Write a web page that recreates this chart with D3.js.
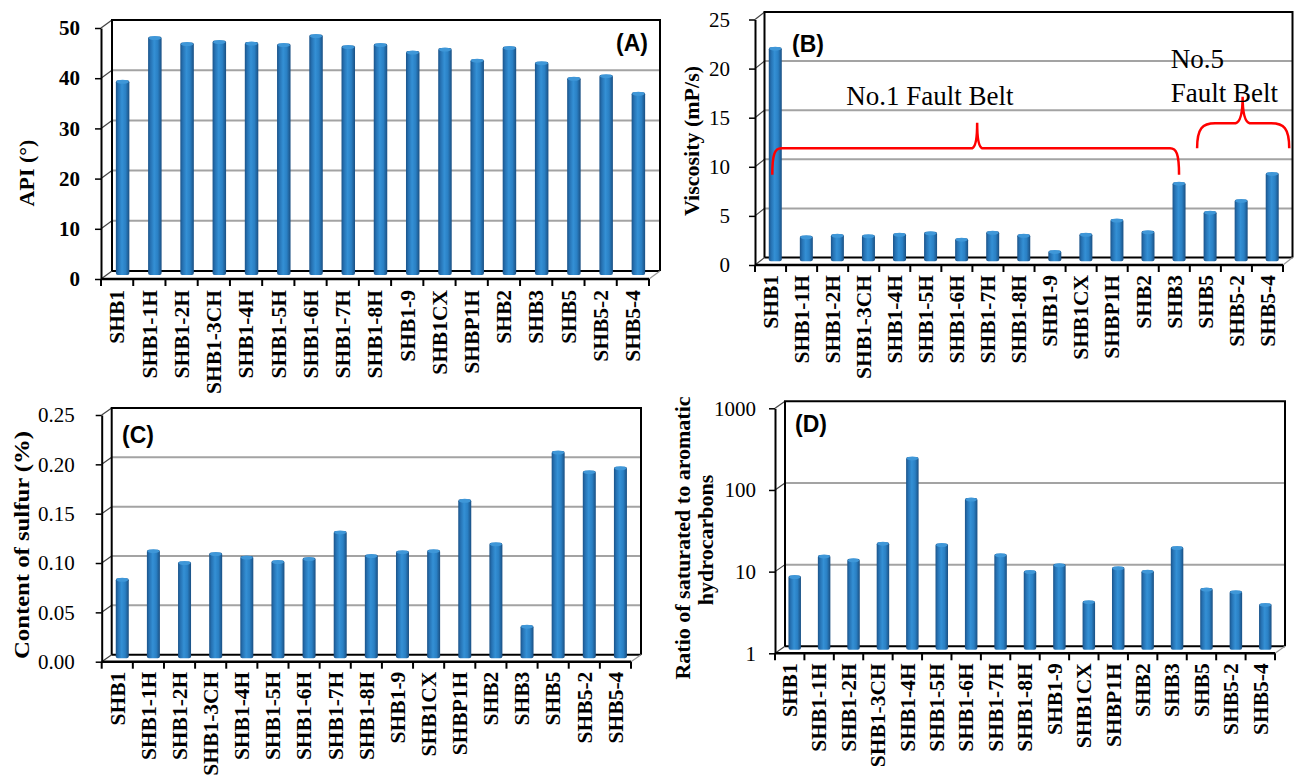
<!DOCTYPE html>
<html>
<head>
<meta charset="utf-8">
<script src="https://cdn.jsdelivr.net/npm/d3@7"></script>
<style>
  body { margin: 0; background: #fff; }
  svg { display: block; }
</style>
</head>
<body>
<svg id="chart" width="1294" height="776"></svg>
<script>
// wells shared by all four panels
var wells = ["SHB1", "SHB1-1H", "SHB1-2H", "SHB1-3CH", "SHB1-4H", "SHB1-5H", "SHB1-6H",
    "SHB1-7H", "SHB1-8H", "SHB1-9", "SHB1CX", "SHBP1H", "SHB2", "SHB3", "SHB5", "SHB5-2", "SHB5-4"];

var apiValues = [38.8, 47.5, 46.3, 46.7, 46.4, 46.1, 47.9, 45.7, 46.1, 44.6, 45.2, 43.0, 45.5, 42.5, 39.4, 39.9, 36.4];
var viscosityValues = [21.8, 2.6, 2.75, 2.7, 2.85, 3.0, 2.35, 3.05, 2.75, 1.1, 2.85, 4.3, 3.1, 8.05, 5.1, 6.3, 9.05];
var sulfurValues = [0.081, 0.110, 0.098, 0.107, 0.1035, 0.099, 0.102, 0.129, 0.105, 0.109, 0.110, 0.161, 0.117, 0.0335, 0.210, 0.190, 0.194];
var ratioValues = [8.1, 14.5, 13.0, 20.8, 230, 20, 72, 15, 9.35, 11.3, 4.0, 10.4, 9.45, 18.4, 5.7, 5.3, 3.7];

var apiTicks = [0, 10, 20, 30, 40, 50];
var viscosityTicks = [0, 5, 10, 15, 20, 25];
var sulfurTicks = [0, 0.05, 0.10, 0.15, 0.20, 0.25];
var ratioTicks = [1, 10, 100, 1000];

var serif = "'Liberation Serif', 'Times New Roman', serif",
    sans = "'Liberation Sans', Arial, sans-serif";

var svg = d3.select("#chart");

var defs = svg.append("defs");
var grad = defs.append("linearGradient")
    .attr("id", "barGrad")
    .attr("x1", 0).attr("x2", 1).attr("y1", 0).attr("y2", 0);
[[0, "#1b5389"], [0.18, "#2672b3"], [0.45, "#3490d5"], [0.72, "#2a80c4"], [1, "#1a4f82"]]
    .forEach(function(s) {
        grad.append("stop").attr("offset", s[0]).attr("stop-color", s[1]);
    });

// one pseudo-3D column panel
function drawPanel(p) {
    var g = svg.append("g");
    var dx = p.dx, dy = p.dy;

    var x = d3.scaleBand()
        .domain(wells)
        .range([p.x0, p.x1]);

    var y = (p.log ? d3.scaleLog() : d3.scaleLinear())
        .domain(p.domain)
        .range([p.yBot, p.yTop]);

    // back wall gridlines
    g.selectAll(".grid")
        .data(p.ticks.slice(1, -1))
        .join("line")
        .attr("x1", p.x0 + dx).attr("x2", p.x1 + dx)
        .attr("y1", function(d) { return y(d) + dy; })
        .attr("y2", function(d) { return y(d) + dy; })
        .attr("stroke", "#a3a3a3")
        .attr("stroke-width", 2);

    // side wall diagonals
    g.selectAll(".side")
        .data(p.ticks)
        .join("line")
        .attr("x1", p.x0).attr("x2", p.x0 + dx)
        .attr("y1", function(d) { return y(d); })
        .attr("y2", function(d) { return y(d) + dy; })
        .attr("stroke", "#444")
        .attr("stroke-width", 1.2);

    // back wall frame
    g.append("path")
        .attr("d", "M" + (p.x0 + dx) + "," + (p.yBot + dy) + "V" + (p.yTop + dy) +
            "H" + (p.x1 + dx) + "V" + (p.yBot + dy))
        .attr("fill", "none")
        .attr("stroke", "#000")
        .attr("stroke-width", 2);

    // floor
    g.append("line")
        .attr("x1", p.x0 + dx).attr("x2", p.x1 + dx)
        .attr("y1", p.yBot + dy).attr("y2", p.yBot + dy)
        .attr("stroke", "#000").attr("stroke-width", 2);
    g.append("line")
        .attr("x1", p.x1).attr("x2", p.x1 + dx)
        .attr("y1", p.yBot).attr("y2", p.yBot + dy)
        .attr("stroke", "#999").attr("stroke-width", 1.2);

    // bars, standing half way into the depth
    var bw = p.barWidth;
    var bars = g.append("g");
    bars.selectAll("rect")
        .data(p.values)
        .join("rect")
        .attr("x", function(d, i) { return x(wells[i]) + x.bandwidth() / 2 + dx / 2 - bw / 2; })
        .attr("y", function(d) { return y(d) + dy / 2; })
        .attr("width", bw)
        .attr("height", function(d) { return p.yBot - y(d); })
        .attr("rx", 2)
        .attr("fill", "url(#barGrad)");
    bars.selectAll("ellipse")
        .data(p.values)
        .join("ellipse")
        .attr("cx", function(d, i) { return x(wells[i]) + x.bandwidth() / 2 + dx / 2; })
        .attr("cy", function(d) { return y(d) + dy / 2 + 1.5; })
        .attr("rx", bw / 2 - 0.5)
        .attr("ry", 2)
        .attr("fill", "#3f97d8");

    // front floor edge
    g.append("line")
        .attr("x1", p.x0).attr("x2", p.x1)
        .attr("y1", p.yBot).attr("y2", p.yBot)
        .attr("stroke", "#000").attr("stroke-width", 2.5);

    // y axis
    var yAxis = d3.axisLeft(y)
        .tickValues(p.ticks)
        .tickFormat(p.format)
        .tickSize(6)
        .tickSizeOuter(0)
        .tickPadding(p.pad);
    var ya = g.append("g")
        .attr("transform", "translate(" + p.x0 + ",0)")
        .call(yAxis);
    ya.select(".domain").attr("stroke-width", 2);
    ya.selectAll(".tick line").attr("stroke-width", 1.5);
    ya.selectAll("text")
        .attr("fill", "#000")
        .style("font-family", serif)
        .style("font-size", "21px")
        .style("font-weight", p.boldTicks ? "bold" : "normal");

    // x ticks on category boundaries
    g.selectAll(".xtick")
        .data(wells.map(function(w) { return x(w); }).concat([p.x1]))
        .join("line")
        .attr("x1", function(d) { return d; }).attr("x2", function(d) { return d; })
        .attr("y1", p.yBot).attr("y2", p.yBot + 7)
        .attr("stroke", "#000").attr("stroke-width", 2);

    // x labels
    var xa = g.append("g")
        .attr("transform", "translate(0," + p.yBot + ")")
        .call(d3.axisBottom(x).tickSize(0).tickPadding(0));
    xa.select(".domain").remove();
    xa.selectAll("text")
        .attr("transform", "rotate(-90)")
        .attr("x", -p.labelGap)
        .attr("y", 0)
        .attr("dy", "0.34em")
        .attr("text-anchor", "end")
        .attr("fill", "#000")
        .style("font-family", serif)
        .style("font-size", "21.5px")
        .style("font-weight", "bold");

    // panel letter
    g.append("text")
        .attr("x", p.tag[1]).attr("y", p.tag[2])
        .attr("text-anchor", p.tag[3] || "start")
        .style("font-family", sans)
        .style("font-size", "23px")
        .style("font-weight", "bold")
        .text(p.tag[0]);

    // y title
    p.title.forEach(function(t) {
        var tt = g.append("text")
            .attr("transform", "translate(" + t.x + "," + t.y + ") rotate(-90)")
            .attr("text-anchor", "middle")
            .attr("dy", "0.34em")
            .style("font-family", serif)
            .style("font-size", "22px")
            .style("font-weight", "bold")
            .text(t.text);
        if (t.len) tt.attr("textLength", t.len).attr("lengthAdjust", "spacingAndGlyphs");
    });

    return {x: x, y: y, g: g, dx: dx, dy: dy};
}

drawPanel({
    values: apiValues, ticks: apiTicks, domain: [0, 50], format: d3.format("d"),
    x0: 101, x1: 649, yTop: 28, yBot: 279, dx: 11, dy: -8,
    pad: 15, boldTicks: true, barWidth: 13.5, labelGap: 11,
    tag: ["(A)", 648, 51, "end"],
    title: [{text: "API (\u00b0)", x: 27, y: 173}]
});

var pb = drawPanel({
    values: viscosityValues, ticks: viscosityTicks, domain: [0, 25], format: d3.format("d"),
    x0: 755, x1: 1283, yTop: 19.5, yBot: 265, dx: 9.5, dy: -7.5,
    pad: 19, boldTicks: false, barWidth: 13, labelGap: 10,
    tag: ["(B)", 792, 52],
    title: [{text: "Viscosity (mP/s)", x: 692, y: 141}]
});

drawPanel({
    values: sulfurValues, ticks: sulfurTicks, domain: [0, 0.25], format: d3.format(".2f"),
    x0: 101.7, x1: 631, yTop: 415, yBot: 661.7, dx: 10, dy: -7,
    pad: 21, boldTicks: false, barWidth: 13, labelGap: 10,
    tag: ["(C)", 122, 443],
    title: [{text: "Content of sulfur (%)", x: 22, y: 545, len: 228}]
});

drawPanel({
    values: ratioValues, ticks: ratioTicks, domain: [1, 1000], format: d3.format("d"), log: true,
    x0: 775, x1: 1275, yTop: 408.3, yBot: 653.3, dx: 10, dy: -7,
    pad: 13, boldTicks: false, barWidth: 12.5, labelGap: 10,
    tag: ["(D)", 795, 432],
    title: [{text: "Ratio of saturated to aromatic", x: 683, y: 538},
            {text: "hydrocarbons", x: 706, y: 540}]
});

// fault belt annotations on panel B
function mid(w) { return pb.x(w) + pb.x.bandwidth() / 2 + pb.dx / 2; }
function vy(v) { return pb.y(v) + pb.dy / 2; }

function brace(xa, xb, xp, yEnd, yMid, yPeak, r, s) {
    return "M" + xa + "," + yEnd +
        "C" + xa + "," + (yMid + (yEnd - yMid) * 0.2) + " " + (xa + r * 0.3) + "," + yMid + " " + (xa + r) + "," + yMid +
        "L" + (xp - s) + "," + yMid +
        "Q" + xp + "," + (yMid - 2) + " " + xp + "," + yPeak +
        "Q" + xp + "," + (yMid - 2) + " " + (xp + s) + "," + yMid +
        "L" + (xb - r) + "," + yMid +
        "C" + (xb - r * 0.3) + "," + yMid + " " + xb + "," + (yMid + (yEnd - yMid) * 0.2) + " " + xb + "," + yEnd;
}

var ann = pb.g.append("g");
ann.append("path")
    .attr("d", brace(mid("SHB1") - 3, mid("SHB3"), (mid("SHB1-6H") + mid("SHB1-7H")) / 2,
        vy(8.8), vy(11.5), vy(14.1), 9, 5))
    .attr("fill", "none").attr("stroke", "#ff0000").attr("stroke-width", 2.5);
ann.append("path")
    .attr("d", brace(mid("SHB5") - 13, mid("SHB5-4") + 17, (mid("SHB5") + mid("SHB5-2")) / 2 + 17,
        vy(11.5), vy(14.05), vy(16.75), 18, 7))
    .attr("fill", "none").attr("stroke", "#ff0000").attr("stroke-width", 2.5);

ann.selectAll("text")
    .data([
        {t: "No.1 Fault Belt", x: pb.x("SHB1-3CH") - 2, v: 15.9},
        {t: "No.5", x: pb.x("SHB3") + 12, v: 19.7},
        {t: "Fault Belt", x: pb.x("SHB3") + 12, v: 16.25}
    ])
    .join("text")
    .attr("x", function(d) { return d.x; })
    .attr("y", function(d) { return vy(d.v); })
    .style("font-family", serif)
    .style("font-size", "27px")
    .text(function(d) { return d.t; });
</script>
</body>
</html>
